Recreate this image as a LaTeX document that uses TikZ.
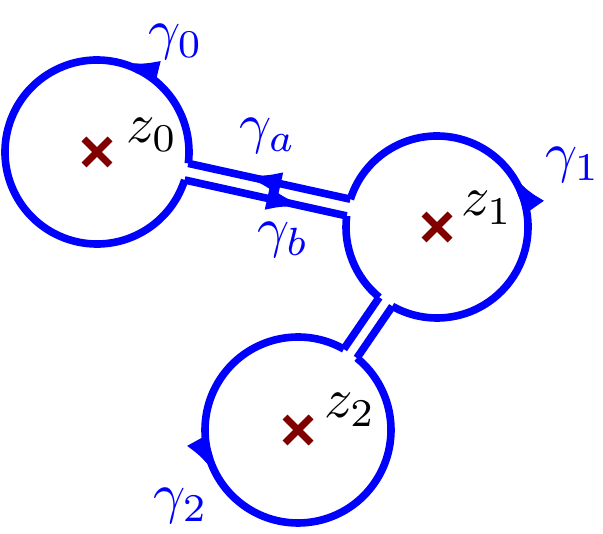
\documentclass[tikz,border=0pt]{standalone}
\usetikzlibrary{arrows.meta,calc}
\definecolor{cb}{RGB}{0,0,255}
\definecolor{dr}{RGB}{128,0,0}
\newcommand{\mylab}[1]{\scalebox{4.8}{$#1$}}
\begin{document}
\begin{tikzpicture}[x=0.03cm,y=-0.03cm,
  cont/.style={draw=cb,line width=6.5pt},
  tip/.style={draw=cb,line width=6.5pt,-{Latex[length=34pt,width=20pt]}},
  lab/.style={text=cb,inner sep=0pt},
  zl/.style={inner sep=0pt}]
\useasboundingbox (0,0) rectangle (603,534);
\coordinate (c0) at (97,152);
\coordinate (c1) at (437,227);
\coordinate (c2) at (298,430);
% circles
\draw[cont] (c0) ++(17.7:92) arc[start angle=17.7,end angle=367.1,radius=92];
\draw[cont] (c1) ++(197.8:91) arc[start angle=197.8,end angle=479.4,radius=91];
\draw[cont] (c1) ++(129.4:91) arc[start angle=129.4,end angle=187.0,radius=91];
\draw[cont] (c2) ++(309.3:93) arc[start angle=309.3,end angle=659.5,radius=93];
% connectors
\draw[cont] ($(c0)+(17.7:92)$) coordinate (a1) -- ($(c1)+(187.0:91)$) coordinate (b1);
\draw[cont] ($(c0)+(7.1:92)$) coordinate (a2) -- ($(c1)+(197.8:91)$) coordinate (b2);
\draw[cont] ($(c1)+(119.4:91)$) -- ($(c2)+(309.3:93)$);
\draw[cont] ($(c1)+(129.4:91)$) -- ($(c2)+(299.5:93)$);
% arrow tips
\draw[tip] (c0) ++(298:92) arc[start angle=298,end angle=284,radius=92];
\draw[tip] (c1) ++(340:91) arc[start angle=340,end angle=325,radius=91];
\draw[tip] (c2) ++(166:93) arc[start angle=166,end angle=151,radius=93];
\draw[tip] ($(a2)!0.5!(b2)$) -- ($(a2)!0.33!(b2)$);
\draw[tip] ($(a1)!0.58!(b1)$) -- ($(a1)!0.75!(b1)$);
% crosses
\foreach \c in {c0,c1,c2}{
  \draw[dr,line width=6pt] (\c) ++(-13,-13) -- ++(26,26);
  \draw[dr,line width=6pt] (\c) ++(-13,13) -- ++(26,-26);}
\node[zl] (z0) at (152,135) {\mylab{z_0}};
\node[zl] (z1) at (487,208) {\mylab{z_1}};
\node[zl] (z2) at (350,410) {\mylab{z_2}};
\node[lab] (g0) at (176,42) {\mylab{\gamma_0}};
\node[lab] (g1) at (573,165) {\mylab{\gamma_1}};
\node[lab] (g2) at (181,506) {\mylab{\gamma_2}};
\node[lab] (ga) at (268,136) {\mylab{\gamma_a}};
\node[lab] (gb) at (283,240) {\mylab{\gamma_b}};
\end{tikzpicture}
\end{document}
